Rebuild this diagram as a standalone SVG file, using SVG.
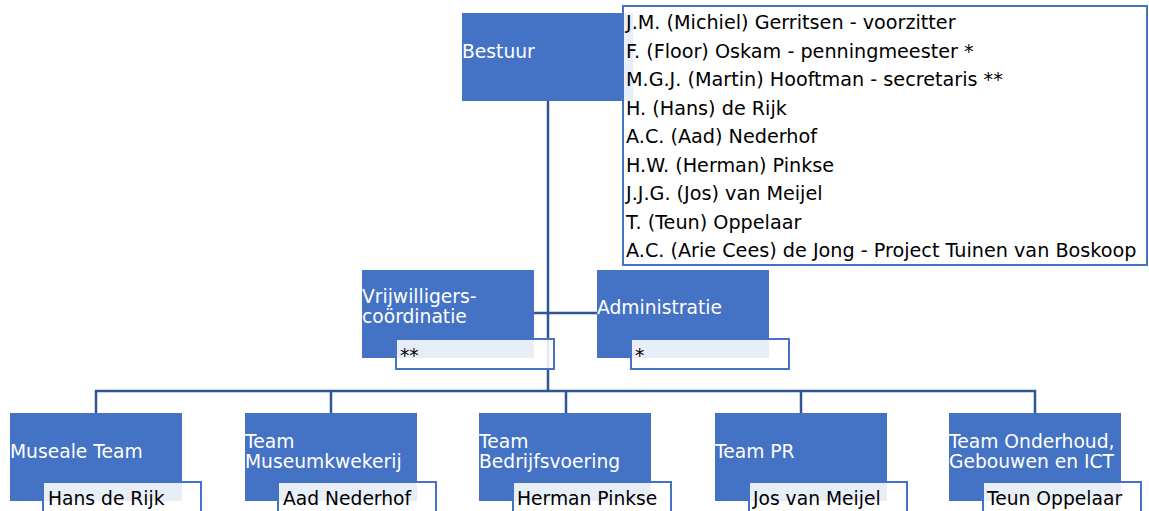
<svg xmlns="http://www.w3.org/2000/svg" width="1149" height="511" viewBox="0 0 1149 511">
<style>
.box{fill:#4472C4;}
.sub{fill:#ffffff;fill-opacity:0.88;stroke:#4472C4;stroke-width:2;}
.wt{fill:#ffffff;font-family:"DejaVu Sans",Verdana,sans-serif;font-size:18.7px;}
.bt{fill:#000000;font-family:"DejaVu Sans",Verdana,sans-serif;font-size:18.7px;}
.lt{fill:#000000;font-family:"DejaVu Sans",Verdana,sans-serif;font-size:19.2px;}
.conn{stroke:#2F5597;stroke-width:2.5;fill:none;}
</style>
<rect width="1149" height="511" fill="#ffffff"/>
<g id="connectors">
<line class="conn" x1="548" y1="101" x2="548" y2="391"/>
<line class="conn" x1="534" y1="313" x2="597" y2="313"/>
<polyline class="conn" points="96,413 96,391 1035,391 1035,413"/>
<line class="conn" x1="331" y1="391" x2="331" y2="413"/>
<line class="conn" x1="566" y1="391" x2="566" y2="413"/>
<line class="conn" x1="801" y1="391" x2="801" y2="413"/>
</g>
<g id="bestuur">
<rect class="box" x="462" y="13" width="171" height="88"/>
<text class="wt" x="462" y="58">Bestuur</text>
<rect class="sub" x="623" y="6" width="524" height="259"/>
<text class="lt" x="626" y="29">J.M. (Michiel) Gerritsen - voorzitter</text>
<text class="lt" x="626" y="57.5">F. (Floor) Oskam - penningmeester *</text>
<text class="lt" x="626" y="86">M.G.J. (Martin) Hooftman - secretaris **</text>
<text class="lt" x="626" y="114.5">H. (Hans) de Rijk</text>
<text class="lt" x="626" y="143">A.C. (Aad) Nederhof</text>
<text class="lt" x="626" y="171.5">H.W. (Herman) Pinkse</text>
<text class="lt" x="626" y="200">J.J.G. (Jos) van Meijel</text>
<text class="lt" x="626" y="228.5">T. (Teun) Oppelaar</text>
<text class="lt" x="626" y="257">A.C. (Arie Cees) de Jong - Project Tuinen van Boskoop</text>
</g>
<g id="vrijwilligers">
<rect class="box" x="362" y="270" width="172" height="88"/>
<text class="wt" x="362" y="303">Vrijwilligers-</text>
<text class="wt" x="362" y="323">coördinatie</text>
<rect class="sub" x="396" y="339" width="158" height="30"/>
<text class="bt" x="400" y="362">**</text>
</g>
<g id="administratie">
<rect class="box" x="597" y="270" width="172" height="88"/>
<text class="wt" x="597" y="314">Administratie</text>
<rect class="sub" x="631" y="339" width="158" height="30"/>
<text class="bt" x="635" y="362">*</text>
</g>
<g id="museale">
<rect class="box" x="10" y="413" width="172" height="88"/>
<text class="wt" x="10" y="458">Museale Team</text>
<rect class="sub" x="43" y="482" width="158" height="32"/>
<text class="bt" x="48" y="505">Hans de Rijk</text>
</g>
<g id="museumkwekerij">
<rect class="box" x="245" y="413" width="172" height="88"/>
<text class="wt" x="245" y="448">Team</text>
<text class="wt" x="245" y="468">Museumkwekerij</text>
<rect class="sub" x="278" y="482" width="158" height="32"/>
<text class="bt" x="283" y="505">Aad Nederhof</text>
</g>
<g id="bedrijfsvoering">
<rect class="box" x="479" y="413" width="172" height="88"/>
<text class="wt" x="479" y="448">Team</text>
<text class="wt" x="479" y="468">Bedrijfsvoering</text>
<rect class="sub" x="513" y="482" width="158" height="32"/>
<text class="bt" x="517" y="505">Herman Pinkse</text>
</g>
<g id="pr">
<rect class="box" x="715" y="413" width="172" height="88"/>
<text class="wt" x="715" y="458">Team PR</text>
<rect class="sub" x="749" y="482" width="158" height="32"/>
<text class="bt" x="753" y="505">Jos van Meijel</text>
</g>
<g id="onderhoud">
<rect class="box" x="949" y="413" width="172" height="88"/>
<text class="wt" x="949" y="448">Team Onderhoud,</text>
<text class="wt" x="949" y="468">Gebouwen en ICT</text>
<rect class="sub" x="983" y="482" width="158" height="32"/>
<text class="bt" x="987" y="505">Teun Oppelaar</text>
</g>
</svg>
